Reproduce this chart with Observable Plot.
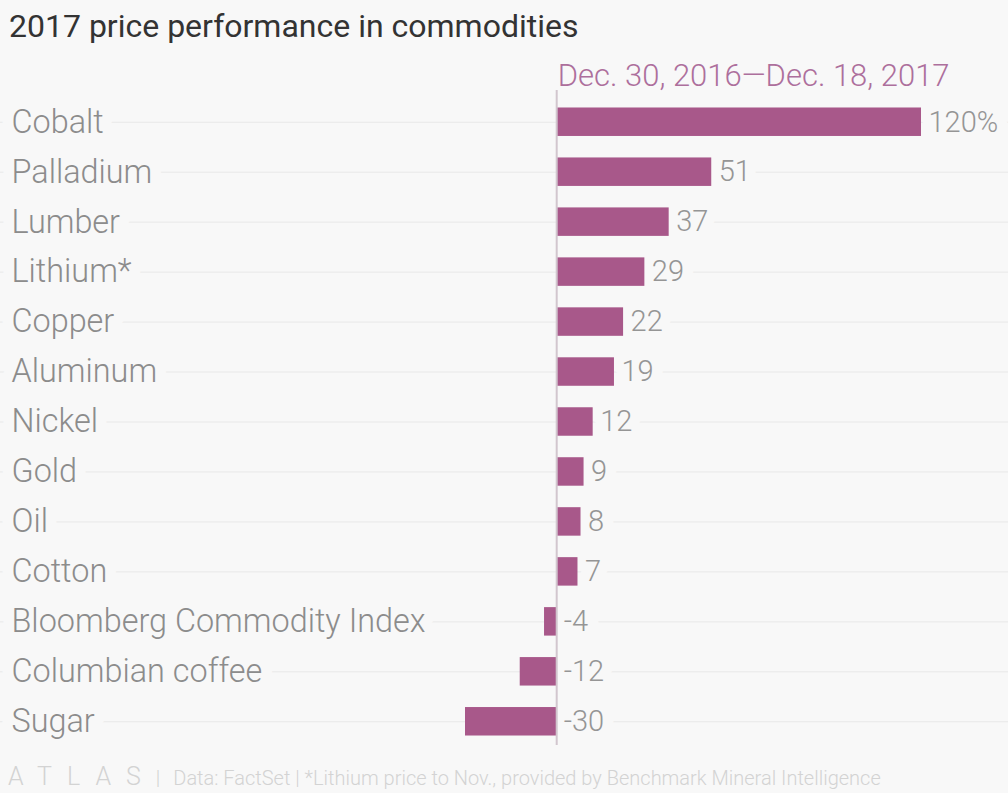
<!DOCTYPE html>
<html>
<head>
<meta charset="utf-8">
<script src="https://cdn.jsdelivr.net/npm/d3@7"></script>
<script src="https://cdn.jsdelivr.net/npm/@observablehq/plot@0.6"></script>
<style>
  html, body { margin: 0; padding: 0; background: #f8f8f8; }
  body { width: 1008px; height: 793px; overflow: hidden; font-family: Roboto, "Open Sans", sans-serif; position: relative; }
  #title { height: 56px; box-sizing: border-box; padding: 7px 0 0 9px; font-size: 32px; color: #333; line-height: 38px; }
  #chart svg { display: block; }
  #footer { position: absolute; top: 762px; left: 8px; font-size: 20px; color: #d3d3d3; white-space: nowrap; font-weight: 300; line-height: 30px; }
  #footer .atlas { font-size: 25px; letter-spacing: 15px; font-weight: 300; }
  #footer .sep { margin: 0 13px 0 0; }
</style>
</head>
<body>
<div id="title">2017 price performance in commodities</div>
<div id="chart"></div>
<div id="footer"><span class="atlas">ATLAS</span><span class="sep">|</span>Data: FactSet | *Lithium price to Nov., provided by Benchmark Mineral Intelligence</div>
<script>
const categories = ["Cobalt", "Palladium", "Lumber", "Lithium*", "Copper", "Aluminum", "Nickel", "Gold", "Oil", "Cotton", "Bloomberg Commodity Index", "Columbian coffee", "Sugar"];
const values = [120, 51, 37, 29, 22, 19, 12, 9, 8, 7, -4, -12, -30];
const valueLabels = ["120%", "51", "37", "29", "22", "19", "12", "9", "8", "7", "-4", "-12", "-30"];
const subtitle = "Dec. 30, 2016\u2014Dec. 18, 2017";

const data = categories.map((c, i) => ({category: c, value: values[i], label: valueLabels[i]}));
const bg = "#f8f8f8";
const labelX = d => Math.max(0, d.value);

const chart = Plot.plot({
  width: 1008,
  height: 700,
  marginLeft: 0,
  marginRight: 0,
  marginTop: 34,
  marginBottom: 11,
  style: {background: bg, fontFamily: "Roboto, sans-serif"},
  x: {domain: [-30, 120], range: [465, 921], axis: null},
  y: {domain: categories, range: [30, 701], padding: 0.43, round: false, axis: null},
  marks: [
    Plot.ruleY(data, {y: "category", stroke: "#e8e8e8", strokeWidth: 1}),
    Plot.text(data, {y: "category", text: "category", frameAnchor: "left", dx: 11, textAnchor: "start",
      fontSize: 32.4, fontWeight: 300, fill: bg, stroke: bg, strokeWidth: 22}),
    Plot.text(data, {y: "category", x: labelX, text: "label", dx: 7, textAnchor: "start",
      fontSize: 29, fontWeight: 300, fill: bg, stroke: bg, strokeWidth: 22}),
    Plot.barX(data, {y: "category", x: "value", fill: "#a8588a"}),
    Plot.ruleX([0], {stroke: "#d2c6ce", strokeWidth: 2}),
    Plot.text(data, {y: "category", text: "category", frameAnchor: "left", dx: 11, textAnchor: "start",
      fontSize: 32.4, fontWeight: 300, fill: "#8c8c8c"}),
    Plot.text(data, {y: "category", x: labelX, text: "label", dx: 7, textAnchor: "start",
      fontSize: 29, fontWeight: 300, fill: "#959595"}),
    Plot.text([subtitle], {x: () => 0, text: d => d, frameAnchor: "top", lineAnchor: "bottom", dy: -5, dx: 1, textAnchor: "start",
      fontSize: 31, fontWeight: 300, fill: "#ad6f9c"})
  ]
});
document.getElementById("chart").appendChild(chart);
</script>
</body>
</html>
